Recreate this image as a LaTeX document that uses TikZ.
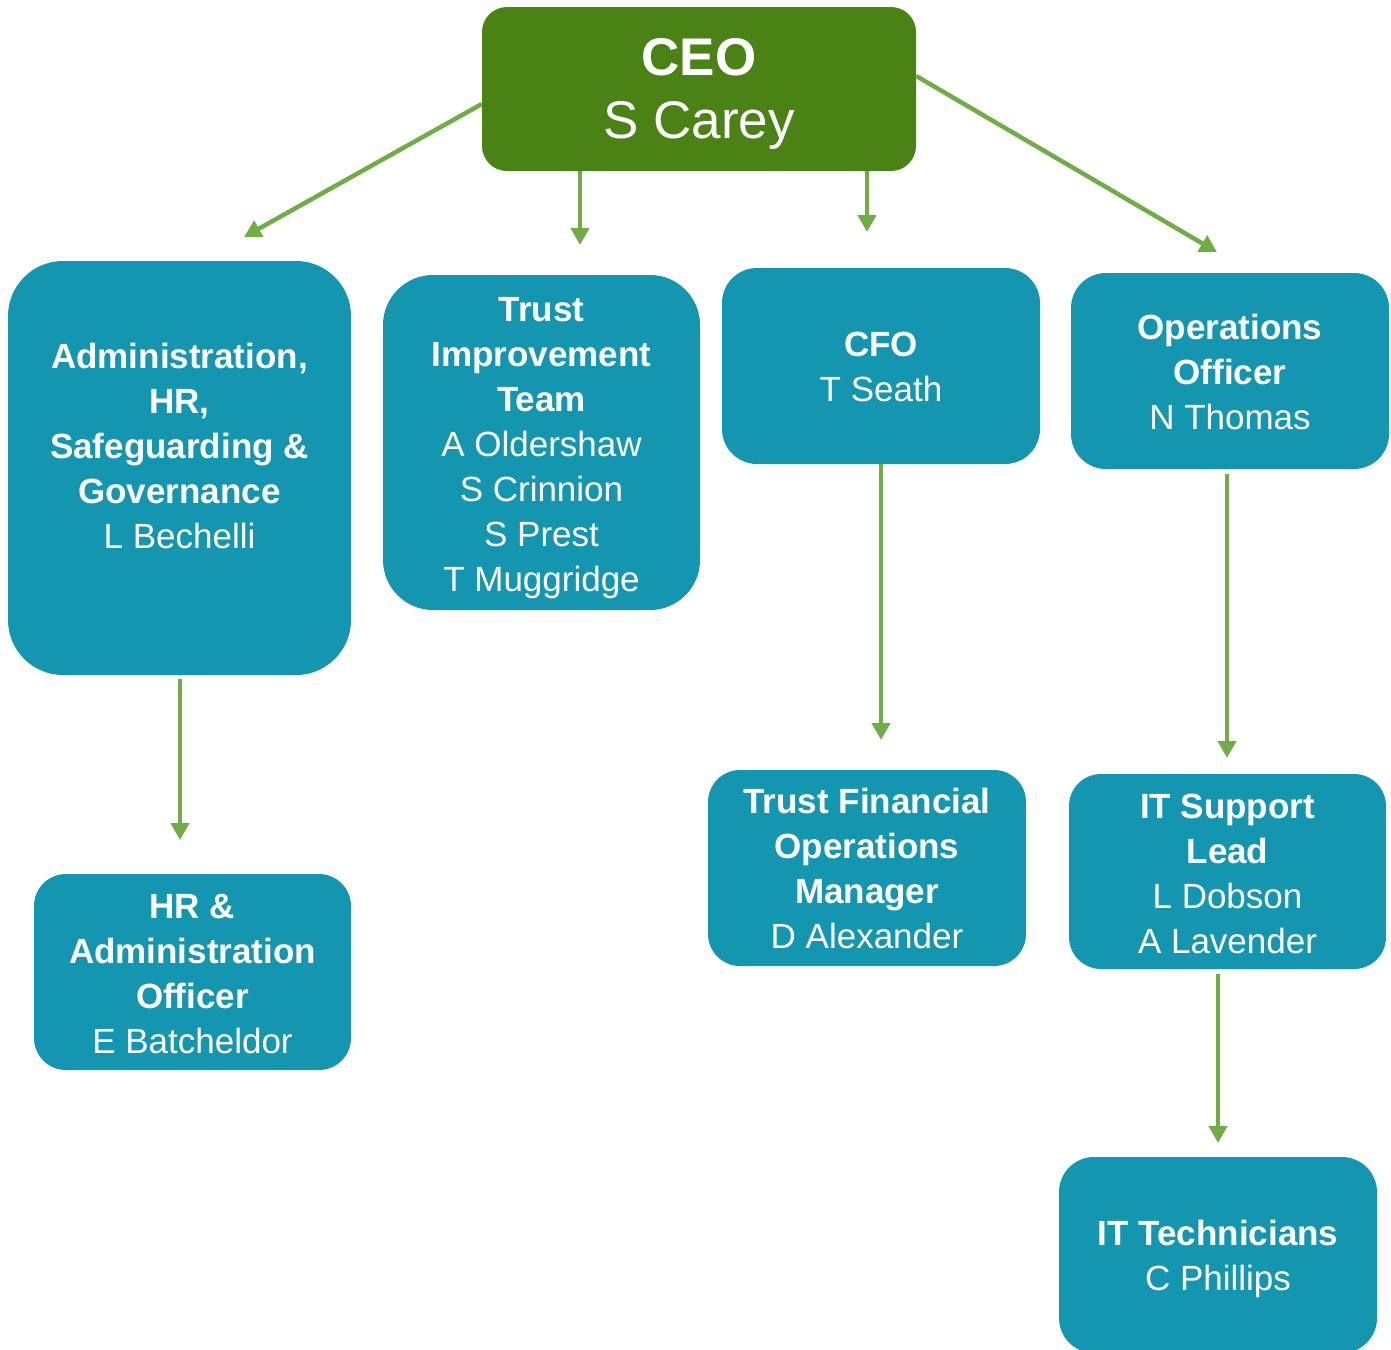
\documentclass[tikz,border=0pt]{standalone}
\usepackage{fontspec}
\setmainfont{Liberation Sans}
\usetikzlibrary{arrows.meta,calc}
\definecolor{tealbox}{HTML}{1596B0}
\definecolor{ceogreen}{HTML}{4A8216}
\definecolor{arrgreen}{HTML}{70AD47}
\begin{document}
\begin{tikzpicture}[x=1pt,y=-1pt,
  box/.style={fill=tealbox, rounded corners=#1, inner sep=0pt},
  box/.default=35pt,
  txt/.style={text=white, align=center, inner sep=0pt, font=\fontsize{35}{45}\selectfont},
  ceobox/.style={fill=ceogreen, rounded corners=25pt, inner sep=0pt},
  ceotxt/.style={text=white, align=center, inner sep=0pt, font=\fontsize{53}{63}\selectfont},
  link/.style={draw=arrgreen, line width=4.5pt, -{Triangle[length=17pt,width=18pt]}}]
\clip (0,0) rectangle (1391,1349);
\useasboundingbox (0,0) rectangle (1391,1349);

% boxes
\node[ceobox, minimum width=434pt, minimum height=164pt] (ceo) at (699,89) {};
\node[box=55pt, minimum width=343pt, minimum height=414pt] (admin) at (179.5,468) {};
\node[box=50pt, minimum width=317pt, minimum height=335pt] (tit) at (541.5,442.5) {};
\node[box, minimum width=318pt, minimum height=196pt] (cfo) at (881,366) {};
\node[box, minimum width=318pt, minimum height=196pt] (ops) at (1230,371) {};
\node[box=32pt, minimum width=317pt, minimum height=196pt] (hr) at (192.5,972) {};
\node[box=32pt, minimum width=318pt, minimum height=196pt] (tfo) at (867,868) {};
\node[box=32pt, minimum width=317pt, minimum height=195pt] (its) at (1227.5,871.5) {};
\node[box, minimum width=318pt, minimum height=196pt] (itt) at (1218,1255) {};

% texts
\node[ceotxt] (ceot) at ($(ceo)+(0,5)$) {\textbf{CEO}\\S Carey};
\node[txt] (admint) at ($(admin)+(0,-22)$)
  {\textbf{Administration,}\\\textbf{HR,}\\\textbf{Safeguarding \&}\\\textbf{Governance}\\L Bechelli};
\node[txt] (titt) at ($(tit)+(0,6)$)
  {\textbf{Trust}\\\textbf{Improvement}\\\textbf{Team}\\A Oldershaw\\S Crinnion\\S Prest\\T Muggridge};
\node[txt] (cfot) at ($(cfo)+(0,1)$) {\textbf{CFO}\\T Seath};
\node[txt] (opst) at ($(ops)+(0,1)$) {\textbf{Operations}\\\textbf{Officer}\\N Thomas};
\node[txt] (hrt) at ($(hr)+(0,2)$)
  {\textbf{HR \&}\\\textbf{Administration}\\\textbf{Officer}\\E Batcheldor};
\node[txt] (tfot) at ($(tfo)+(0,0.5)$)
  {\textbf{Trust Financial}\\\textbf{Operations}\\\textbf{Manager}\\D Alexander};
\node[txt] (itst) at ($(its)+(0,2)$) {\textbf{IT Support}\\\textbf{Lead}\\L Dobson\\A Lavender};
\node[txt] (ittt) at ($(itt)+(0,4)$) {\textbf{IT Technicians}\\C Phillips};

% arrows
\coordinate (e1) at (244,237);
\coordinate (e2) at (580,245);
\coordinate (e3) at (867,232);
\coordinate (e4) at (1217,252);
\coordinate (e5) at (180,840);
\coordinate (e6) at (881,740);
\coordinate (e7) at (1227,758);
\coordinate (e8) at (1218,1143);

\draw[link] ($(ceo.west)+(0,15)$) -- (e1);
\draw[link] ($(ceo.south)+(-119,0)$) -- (e2);
\draw[link] ($(ceo.south)+(168,0)$) -- (e3);
\draw[link] ($(ceo.east)+(0,-13)$) -- (e4);
\draw[link] ($(admin.south)+(0.5,4)$) -- (e5);
\draw[link] (cfo.south) -- (e6);
\draw[link] ($(ops.south)+(-3,5)$) -- (e7);
\draw[link] ($(its.south)+(-9.5,5)$) -- (e8);
\end{tikzpicture}
\end{document}
